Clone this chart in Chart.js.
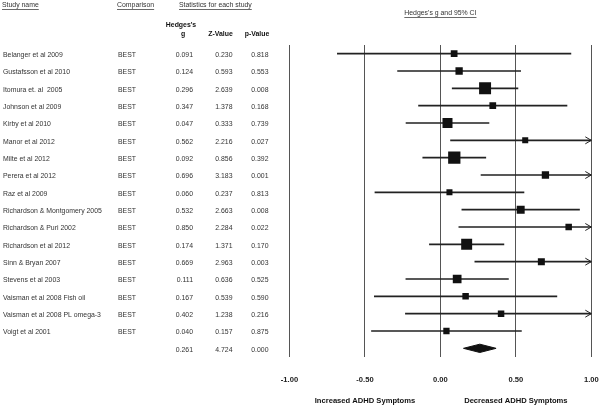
<!DOCTYPE html>
<html>
<head>
<meta charset="utf-8">
<script src="https://cdn.jsdelivr.net/npm/chart.js@4"></script>
<style>
html,body{margin:0;padding:0;background:#fff;}
#wrap{width:600px;height:407px;position:relative;}
</style>
</head>
<body>
<div id="wrap"><canvas id="c" width="600" height="407"></canvas></div>
<script>
const studies = [
  "Belanger et al 2009", "Gustafsson et al 2010", "Itomura et. al  2005", "Johnson et al 2009",
  "Kirby et al 2010", "Manor et al 2012", "Milte et al 2012", "Perera et al 2012",
  "Raz et al 2009", "Richardson & Montgomery 2005", "Richardson & Puri 2002", "Richardson et al 2012",
  "Sinn & Bryan 2007", "Stevens et al 2003", "Vaisman et al 2008 Fish oil", "Vaisman et al 2008 PL omega-3",
  "Voigt et al 2001"
];
const comparison = ["BEST","BEST","BEST","BEST","BEST","BEST","BEST","BEST","BEST","BEST","BEST","BEST","BEST","BEST","BEST","BEST","BEST"];
const hedgesG = [0.091, 0.124, 0.296, 0.347, 0.047, 0.562, 0.092, 0.696, 0.060, 0.532, 0.850, 0.174, 0.669, 0.111, 0.167, 0.402, 0.040];
const zValue  = [0.230, 0.593, 2.639, 1.378, 0.333, 2.216, 0.856, 3.183, 0.237, 2.663, 2.284, 1.371, 2.963, 0.636, 0.539, 1.238, 0.157];
const pValue  = [0.818, 0.553, 0.008, 0.168, 0.739, 0.027, 0.392, 0.001, 0.813, 0.008, 0.022, 0.170, 0.003, 0.525, 0.590, 0.216, 0.875];
const lowerCI = [-0.685, -0.286, 0.076, -0.147, -0.230, 0.065, -0.119, 0.267, -0.436, 0.140, 0.120, -0.075, 0.226, -0.231, -0.440, -0.234, -0.459];
const upperCI = [0.867, 0.534, 0.516, 0.841, 0.324, 1.059, 0.303, 1.125, 0.556, 0.924, 1.580, 0.423, 1.112, 0.453, 0.774, 1.038, 0.539];
const relWeight = [4.0, 4.7, 12.6, 4.0, 8.8, 3.2, 13.3, 4.7, 3.2, 5.6, 3.7, 10.6, 4.3, 6.7, 3.7, 3.7, 3.5];
const summaryG = 0.261, summaryZ = 4.724, summaryP = 0.000, summaryLower = 0.153, summaryUpper = 0.369;
const xTicks = [-1.00, -0.50, 0.00, 0.50, 1.00];
const xTitleLeft = "Increased ADHD Symptoms";
const xTitleRight = "Decreased ADHD Symptoms";

const FONT = "'Liberation Sans', Arial, sans-serif";
const FS = 6.9;
const FSB = 7.6;
const summaryRow = studies.length;
const diamondHalf = 0.24;

function squareRadius(w){ return 3.37*Math.sqrt(w)/Math.SQRT2; }

const textPlugin = {
  id: 'forestText',
  afterDraw(chart){
    const ctx = chart.ctx;
    const ys = chart.scales.y, xs = chart.scales.x;
    ctx.save();
    function txt(s, x, y, align, bold, color, size){
      ctx.font = (bold ? 'bold ' : '') + (size || FS) + 'px ' + FONT;
      ctx.fillStyle = color || '#333';
      ctx.textAlign = align; ctx.textBaseline = 'middle';
      ctx.fillText(s, x, y);
    }
    function uline(s, x, y, align){
      ctx.font = FS + 'px ' + FONT;
      const w = ctx.measureText(s).width;
      let x0 = align === 'center' ? x - w/2 : x;
      ctx.strokeStyle = '#444'; ctx.lineWidth = 0.8;
      ctx.beginPath(); ctx.moveTo(x0, y + 4); ctx.lineTo(x0 + w, y + 4); ctx.stroke();
    }
    txt("Study name", 2, 5.5, 'left'); uline("Study name", 2, 5.5, 'left');
    txt("Comparison", 117, 5.5, 'left'); uline("Comparison", 117, 5.5, 'left');
    txt("Statistics for each study", 179, 5.5, 'left'); uline("Statistics for each study", 179, 5.5, 'left');
    const midX = (xs.left + xs.right)/2;
    txt("Hedges's g and 95% CI", midX, 13.5, 'center'); uline("Hedges's g and 95% CI", midX, 13.5, 'center');
    txt("Hedges's", 181, 25, 'center', true, '#111');
    txt("g", 183, 34, 'center', true, '#111');
    txt("Z-Value", 220.5, 34, 'center', true, '#111');
    txt("p-Value", 257, 34, 'center', true, '#111');
    for (let i = 0; i < studies.length; i++){
      const y = ys.getPixelForValue(i) + 1.5;
      txt(studies[i], 3, y, 'left');
      txt(comparison[i], 118, y, 'left');
      txt(hedgesG[i].toFixed(3), 193, y, 'right');
      txt(zValue[i].toFixed(3), 232.5, y, 'right');
      txt(pValue[i].toFixed(3), 268.5, y, 'right');
    }
    const ySum = ys.getPixelForValue(summaryRow) + 1.5;
    txt(summaryG.toFixed(3), 193, ySum, 'right');
    txt(summaryZ.toFixed(3), 232.5, ySum, 'right');
    txt(summaryP.toFixed(3), 268.5, ySum, 'right');
    txt(xTitleLeft, xs.getPixelForValue(-0.5), 401, 'center', true, '#111', FSB);
    txt(xTitleRight, xs.getPixelForValue(0.5), 401, 'center', true, '#111', FSB);
    ctx.strokeStyle = '#222'; ctx.lineWidth = 1;
    const xEnd = xs.getPixelForValue(xs.max);
    for (let i = 0; i < studies.length; i++){
      if (upperCI[i] > xs.max){
        const y = ys.getPixelForValue(i);
        ctx.beginPath();
        ctx.moveTo(xEnd - 6, y - 3.5); ctx.lineTo(xEnd, y); ctx.lineTo(xEnd - 6, y + 3.5);
        ctx.stroke();
      }
    }
    ctx.restore();
  }
};

const ciData = [];
studies.forEach((s, i) => {
  ciData.push({ x: lowerCI[i], y: i }, { x: upperCI[i], y: i }, { x: null, y: null });
});
const ptData = studies.map((s, i) => ({ x: hedgesG[i], y: i }));
const diamondData = [
  { x: summaryLower, y: summaryRow },
  { x: summaryG, y: summaryRow - diamondHalf },
  { x: summaryUpper, y: summaryRow },
  { x: summaryG, y: summaryRow + diamondHalf },
  { x: summaryLower, y: summaryRow }
];

new Chart(document.getElementById('c'), {
  type: 'scatter',
  data: {
    datasets: [
      {
        type: 'scatter', data: ptData, order: 0,
        pointStyle: 'rect', backgroundColor: '#111', borderColor: '#111', borderWidth: 0,
        pointRadius: relWeight.map(squareRadius), pointHoverRadius: relWeight.map(squareRadius)
      },
      {
        type: 'line', data: diamondData, order: 1, fill: 'shape',
        backgroundColor: '#111', borderColor: '#111', borderWidth: 1, pointRadius: 0, tension: 0
      },
      {
        type: 'line', data: ciData, order: 2, spanGaps: false, showLine: true, clip: 0,
        borderColor: '#222', borderWidth: 1.6, pointRadius: 0, fill: false, tension: 0
      }
    ]
  },
  options: {
    responsive: false, animation: false,
    layout: { padding: { left: 289.5, right: 7.5, top: 45, bottom: 23.2 } },
    plugins: { legend: { display: false }, tooltip: { enabled: false } },
    scales: {
      x: {
        type: 'linear', min: -1, max: 1,
        afterBuildTicks(axis){ axis.ticks = xTicks.map(v => ({ value: v })); },
        afterFit(axis){ axis.height = 26.8; axis.paddingLeft = 0; axis.paddingRight = 0; },
        grid: { color: '#555', lineWidth: 1, drawTicks: false },
        border: { display: false },
        ticks: {
          padding: 18, color: '#222',
          font: { family: FONT, size: FSB, weight: 'bold' },
          callback: v => v.toFixed(2)
        }
      },
      y: {
        type: 'linear', min: -0.5, max: 17.5, reverse: true, display: false
      }
    }
  },
  plugins: [textPlugin]
});
</script>
</body>
</html>
